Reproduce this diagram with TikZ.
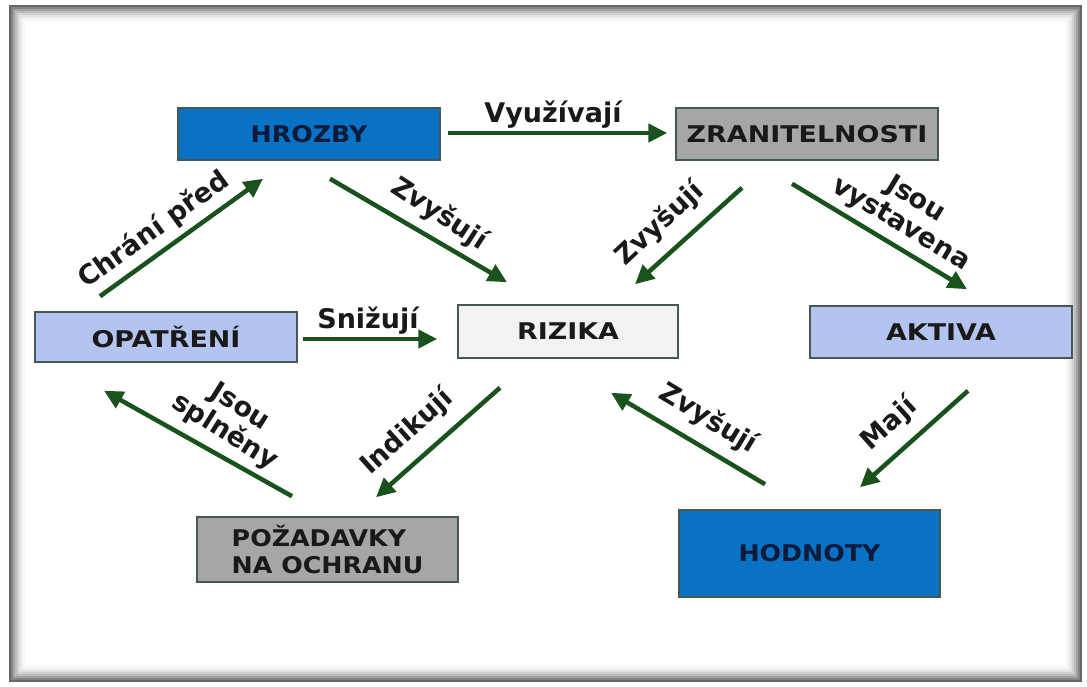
\documentclass[tikz,border=0pt]{standalone}
\usepackage{fontspec}
\setmainfont{DejaVu Sans}
\newfontfamily\widefont[FakeStretch=1.17]{DejaVu Sans}
\newfontfamily\midfont[FakeStretch=1.10]{DejaVu Sans}
\usetikzlibrary{arrows.meta}
\definecolor{bblue}{RGB}{10,114,196}
\definecolor{bgray}{RGB}{166,166,166}
\definecolor{blav}{RGB}{180,196,240}
\definecolor{blight}{RGB}{242,242,242}
\definecolor{bline}{RGB}{70,88,82}
\definecolor{agreen}{RGB}{26,82,30}
\definecolor{navy}{RGB}{14,26,58}
\definecolor{txt}{RGB}{25,25,25}
\tikzset{
  box/.style={draw=bline, line width=1.5pt, inner sep=0pt, text=txt,
    font=\widefont\fontsize{23}{27}\selectfont\bfseries},
  bluebox/.style={box, fill=bblue, text=navy, font=\midfont\fontsize{23}{27}\selectfont\bfseries},
  graybox/.style={box, fill=bgray},
  lavbox/.style={box, fill=blav},
  lightbox/.style={box, fill=blight},
  conn/.style={draw=agreen, line width=4.5pt, -{Triangle[length=19pt,width=18pt]}},
  lbl/.style={inner sep=0pt, text=txt, align=center,
    font=\fontsize{27}{29}\selectfont\bfseries}
}
\begin{document}
\begin{tikzpicture}[x=1pt,y=-1pt]
\useasboundingbox (0,0) rectangle (1087,687);
\fill[white] (0,0) rectangle (1087,687);
% frame with soft shadow
\foreach \i/\c in {0/60,1/48,2/36,3/26,4/18,5/11,6/6,7/3} {
  \draw[line width=2pt, black!\c] (10+2*\i,6+2*\i) rectangle (1081-2*\i,681-2*\i);
}
% nodes
\node[bluebox, minimum width=262pt, minimum height=52pt] (hroz) at (309,134) {HROZBY};
\node[graybox, minimum width=262pt, minimum height=52pt] (zran) at (807,134) {ZRANITELNOSTI};
\node[lavbox, minimum width=262pt, minimum height=50pt] (opat) at (166,337) {OPATŘENÍ};
\node[lightbox, minimum width=220pt, minimum height=53pt] (riz) at (568,331.5) {RIZIKA};
\node[lavbox, minimum width=262pt, minimum height=52pt] (akt) at (941,332) {AKTIVA};
\node[graybox, font=\midfont\fontsize{23}{27}\selectfont\bfseries, minimum width=261pt, minimum height=65pt, align=left] (poz) at (327.5,549.5) {POŽADAVKY\\NA OCHRANU};
\node[bluebox, minimum width=261pt, minimum height=87pt] (hodn) at (809.5,553.5) {HODNOTY};
% connectors
\draw[conn] ([shift={(7,-1)}]hroz.east) -- ([shift={(-8,-1)}]zran.west);
\draw[conn] ([shift={(21,18)}]hroz.south) -- ([shift={(-61,-22)}]riz.north);
\draw[conn] ([shift={(-65,27)}]zran.south) -- ([shift={(67,-20)}]riz.north);
\draw[conn] ([shift={(-15,23)}]zran.south) -- ([shift={(26,-16)}]akt.north);
\draw[conn] ([shift={(-66,-15)}]opat.north) -- ([shift={(-46,18)}]hroz.south);
\draw[conn] ([shift={(5,2)}]opat.east) -- ([shift={(-20,7.5)}]riz.west);
\draw[conn] ([shift={(-68,29)}]riz.south) -- ([shift={(48.5,-19)}]poz.north);
\draw[conn] ([shift={(-35.5,-20)}]poz.north) -- ([shift={(-62,28)}]opat.south);
\draw[conn] ([shift={(-44.5,-25)}]hodn.north) -- ([shift={(43,34)}]riz.south);
\draw[conn] ([shift={(27,32)}]akt.south) -- ([shift={(50.5,-22)}]hodn.north);
% labels
\node[lbl] (l1) at (553,115) {Využívají};
\node[lbl, rotate=-33] (l2) at (439,214) {Zvyšují};
\node[lbl, rotate=43] (l3) at (660,224) {Zvyšují};
\node[lbl, rotate=-31] (l4) at (908,212) {Jsou\\vystavena};
\node[lbl, rotate=36] (l5) at (154,230) {Chrání před};
\node[lbl] (l6) at (368,321) {Snižují};
\node[lbl, rotate=42] (l7) at (407,432) {Indikují};
\node[lbl, rotate=-32] (l8) at (232,420) {Jsou\\splněny};
\node[lbl, rotate=-31] (l9) at (708,419) {Zvyšují};
\node[lbl, rotate=42] (l10) at (889,424) {Mají};
\end{tikzpicture}
\end{document}
